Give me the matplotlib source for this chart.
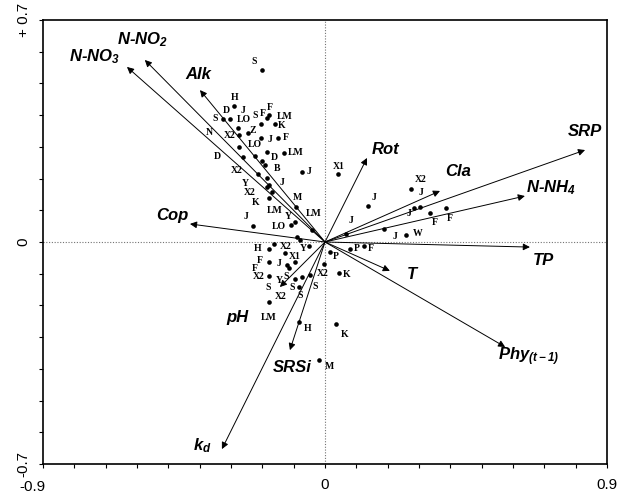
"""
Ordination biplot: sampling sites plus environmental arrows
"""
import matplotlib
import matplotlib.pyplot as plt
from matplotlib.transforms import ScaledTranslation

matplotlib.use("Agg")

# Custom mathtext so the subscripts stay bold italic like the labels
plt.rcParams["mathtext.fontset"] = "custom"
plt.rcParams["mathtext.rm"] = "Liberation Sans:bold:italic"
plt.rcParams["mathtext.it"] = "Liberation Sans:bold:italic"
plt.rcParams["mathtext.bf"] = "Liberation Sans:bold:italic"

# Environmental variables (arrow tips, axis 1 / axis 2)
env_names = ["N-NO$_3$", "N-NO$_2$", "Alk", "Cop", "Rot", "Cla", "SRP",
             "N-NH$_4$", "TP", "T", "Phy$_{(t-1)}$", "SRSi", "pH", "k$_d$"]
env_x = [-0.632, -0.575, -0.399, -0.431, 0.134, 0.367, 0.830,
         0.638, 0.654, 0.207, 0.575, -0.112, -0.144, -0.329]
env_y = [0.552, 0.574, 0.479, 0.057, 0.265, 0.161, 0.290,
         0.145, -0.016, -0.091, -0.331, -0.341, -0.142, -0.653]
# where each arrow name sits
env_lab_x = [-0.737, -0.581, -0.405, -0.488, 0.192, 0.425, 0.830,
             0.721, 0.696, 0.278, 0.651, -0.105, -0.281, -0.393]
env_lab_y = [0.583, 0.637, 0.527, 0.082, 0.293, 0.221, 0.347,
             0.170, -0.057, -0.104, -0.363, -0.397, -0.237, -0.643]

# Site scores
site_x = [-0.201, -0.290, -0.326, -0.303, -0.278, -0.204, -0.185, -0.179, -0.160,
          -0.275, -0.246, -0.204, -0.150, -0.275, -0.185, -0.131, -0.223, -0.201,
          -0.192, -0.262, -0.214, -0.073, -0.185, -0.179, -0.185, -0.169, -0.179,
          -0.093, -0.096, -0.109, -0.041, -0.230, -0.089, -0.080,
          -0.179, -0.163, -0.051, -0.128, -0.096, 0.016, 0.080, 0.124, -0.179,
          -0.121, -0.115, -0.179, -0.096, -0.073, -0.003, 0.045, -0.048, -0.083,
          -0.179, -0.083, 0.035, -0.019,
          0.041, 0.137, 0.275, 0.284, 0.303, 0.335, 0.386, 0.067, 0.188, 0.259]
site_y = [0.542, 0.429, 0.388, 0.388, 0.360, 0.372, 0.391, 0.401, 0.372,
          0.337, 0.344, 0.328, 0.328, 0.300, 0.284, 0.281, 0.271, 0.255,
          0.243, 0.268, 0.214, 0.221, 0.202, 0.180, 0.173, 0.158, 0.139,
          0.110, 0.063, 0.054, 0.038, 0.050, 0.016, 0.006,
          -0.022, -0.006, -0.013, -0.035, -0.063, -0.032, -0.022, -0.013, -0.063,
          -0.073, -0.082, -0.107, -0.117, -0.110, -0.069, -0.098, -0.104, -0.142,
          -0.189, -0.252, -0.259, -0.372,
          0.214, 0.114, 0.167, 0.107, 0.110, 0.091, 0.107, 0.025, 0.041, 0.022]

# Site codes and where they are written
site_lab = ["S", "H", "D", "J", "S", "LO", "S", "F", "F", "LM", "K", "N", "X2", "Z",
            "LO", "J", "F", "D", "D", "LM", "B", "X2", "J", "Y", "J", "X2", "K", "M",
            "LM", "Y", "LM", "J", "LO",
            "H", "X2", "Y", "X1", "P", "P", "F", "F", "J", "F", "X2", "Y", "S", "X2",
            "K", "S", "S", "S", "S", "X2", "LM", "H", "K", "M",
            "X1", "J", "X2", "J", "J", "F", "F", "J", "J", "W"]
lab_x = [-0.227, -0.287, -0.316, -0.262, -0.351, -0.259, -0.224, -0.198, -0.176,
         -0.128, -0.137, -0.370, -0.303, -0.230, -0.223, -0.176, -0.124, -0.345,
         -0.160, -0.093, -0.153, -0.281, -0.051, -0.255, -0.137, -0.239, -0.223,
         -0.089, -0.160, -0.118, -0.035, -0.252, -0.147,
         -0.214, -0.124, -0.070, -0.096, 0.035, 0.102, 0.147, -0.207, -0.147,
         -0.223, -0.211, -0.147, -0.124, -0.006, 0.070, -0.032, -0.182, -0.105,
         -0.080, -0.140, -0.179, -0.057, 0.064, 0.013,
         0.045, 0.156, 0.306, 0.306, 0.268, 0.351, 0.399, 0.083, 0.223, 0.297]
lab_y = [0.568, 0.457, 0.416, 0.416, 0.388, 0.385, 0.400, 0.404, 0.423,
         0.397, 0.366, 0.344, 0.337, 0.353, 0.306, 0.322, 0.328, 0.271,
         0.265, 0.281, 0.233, 0.224, 0.221, 0.186, 0.189, 0.155, 0.126,
         0.139, 0.098, 0.079, 0.091, 0.079, 0.050,
         -0.022, -0.013, -0.019, -0.047, -0.047, -0.019, -0.019, -0.057, -0.069,
         -0.082, -0.110, -0.120, -0.110, -0.098, -0.104, -0.139, -0.145, -0.145,
         -0.170, -0.173, -0.237, -0.274, -0.293, -0.394,
         0.237, 0.139, 0.196, 0.155, 0.091, 0.063, 0.073, 0.069, 0.016, 0.028]

fig = plt.figure(figsize=(6.2, 4.95), dpi=100)
ax = fig.add_axes([43 / 620, 31 / 495, 564 / 620, 444 / 495])

ax.set_xlim(-0.9, 0.9)
ax.set_ylim(-0.7, 0.7)

# Dotted zero lines
ax.axhline(0, color="0.45", lw=0.8, ls=(0, (1, 1.5)), zorder=0)
ax.axvline(0, color="0.45", lw=0.8, ls=(0, (1, 1.5)), zorder=0)

# Sites
ax.scatter(site_x, site_y, s=11, color="black", zorder=3, linewidths=0)
for lab, lx, ly in zip(site_lab, lab_x, lab_y):
    ax.text(lx, ly, lab, fontsize=7, family="Liberation Serif", weight="bold",
            ha="center", va="center")

# Environmental arrows
for name, tx, ty, lx, ly in zip(env_names, env_x, env_y, env_lab_x, env_lab_y):
    ax.annotate("", xy=(tx, ty), xytext=(0, 0),
                arrowprops=dict(arrowstyle="-|>", color="black", lw=0.7,
                                mutation_scale=10, shrinkA=0, shrinkB=0))
    ax.text(lx, ly, name, fontsize=12, family="Liberation Sans", weight="bold",
            style="italic", ha="center", va="center")

# Ticks every 0.1, labels only at the ends and zero
xt = [round(-0.9 + 0.1 * i, 1) for i in range(19)]
yt = [round(-0.7 + 0.1 * i, 1) for i in range(15)]
ax.set_xticks(xt)
ax.set_yticks(yt)
ax.set_xticklabels(["-0.9" if v == -0.9 else "0" if v == 0 else "0.9" if v == 0.9 else ""
                    for v in xt], family="Liberation Sans", fontsize=11)
ax.set_yticklabels(["-0.7" if v == -0.7 else "0" if v == 0 else "+ 0.7" if v == 0.7 else ""
                    for v in yt], family="Liberation Sans", fontsize=11,
                   rotation=90, va="center")
ax.tick_params(axis="x", direction="out", length=3, width=0.8, pad=7)
ax.tick_params(axis="y", direction="out", length=3, width=0.8, pad=6)

# the corner label -0.9 sits a little lower and to the left
first = ax.get_xticklabels()[0]
first.set_ha("right")
first.set_transform(first.get_transform() + ScaledTranslation(0.03, -0.02, fig.dpi_scale_trans))

for sp in ax.spines.values():
    sp.set_linewidth(1.2)

fig.savefig("out.png", dpi=100)
